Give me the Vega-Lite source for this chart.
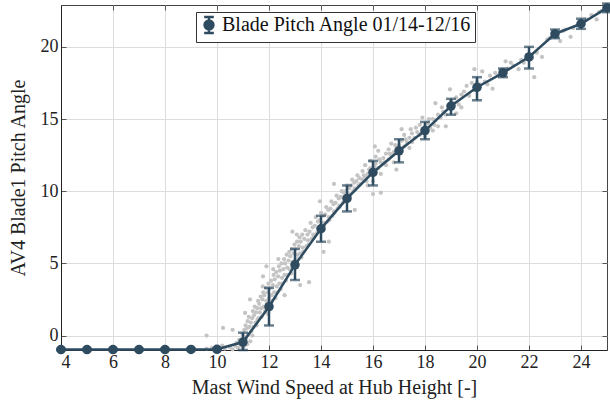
{
  "$schema": "https://vega.github.io/schema/vega-lite/v6.json",
  "width": 546,
  "height": 345,
  "autosize": "none",
  "padding": {"left": 61, "top": 5, "right": 3, "bottom": 52},
  "background": "white",
  "config": {
    "view": {"stroke": "#444", "strokeWidth": 1},
    "font": "Liberation Serif",
    "axis": {
      "labelFont": "Liberation Serif", "titleFont": "Liberation Serif",
      "labelFontSize": 18, "titleFontSize": 20, "labelColor": "#222", "titleColor": "#222",
      "titleFontWeight": "normal", "gridColor": "#dddddd", "gridWidth": 1,
      "domainColor": "#222", "tickColor": "#555", "tickSize": -5, "labelPadding": 8
    },
    "legend": {"labelFont": "Liberation Serif"}
  },
  "datasets": {
    "scatter": [
      {"ws": 9.6, "pitch": -0.9}, {"ws": 9.8, "pitch": -0.85}, {"ws": 10.1, "pitch": -0.95}, {"ws": 10.3, "pitch": -0.9},
      {"ws": 10.5, "pitch": -0.8}, {"ws": 10.6, "pitch": -0.95}, {"ws": 10.7, "pitch": -0.7}, {"ws": 10.8, "pitch": -0.85},
      {"ws": 10.9, "pitch": -0.6}, {"ws": 10.2, "pitch": -0.7}, {"ws": 9.6, "pitch": 0.0}, {"ws": 10.23, "pitch": 0.53},
      {"ws": 10.6, "pitch": 0.4}, {"ws": 10.75, "pitch": -0.5}, {"ws": 10.85, "pitch": -0.3},
      {"ws": 11.08, "pitch": 1.57}, {"ws": 11.27, "pitch": 2.5}, {"ws": 11.77, "pitch": 4.1}, {"ws": 11.9, "pitch": 4.8},
      {"ws": 13.54, "pitch": 3.7}, {"ws": 13.2, "pitch": 3.5}, {"ws": 14.1, "pitch": 5.8}, {"ws": 14.3, "pitch": 6.5},
      {"ws": 12.6, "pitch": 2.8}, {"ws": 15.3, "pitch": 8.7}, {"ws": 14.5, "pitch": 10.5}, {"ws": 13.96, "pitch": 9.3},
      {"ws": 13.07, "pitch": 7.0}, {"ws": 12.9, "pitch": 7.2},
      {"ws": 10.92, "pitch": -0.7}, {"ws": 10.95, "pitch": -0.3}, {"ws": 10.98, "pitch": 0.1}, {"ws": 11.02, "pitch": -0.5},
      {"ws": 11.05, "pitch": 0.4}, {"ws": 11.08, "pitch": -0.1}, {"ws": 11.1, "pitch": 0.7}, {"ws": 11.0, "pitch": -0.85},
      {"ws": 11.06, "pitch": -0.7},
      {"ws": 11.12, "pitch": -0.2}, {"ws": 11.15, "pitch": 0.5}, {"ws": 11.18, "pitch": 1.0}, {"ws": 11.2, "pitch": 0.1},
      {"ws": 11.22, "pitch": 1.3}, {"ws": 11.25, "pitch": 0.6}, {"ws": 11.28, "pitch": -0.4}, {"ws": 11.3, "pitch": 0.9},
      {"ws": 11.16, "pitch": -0.6},
      {"ws": 11.32, "pitch": 0.3}, {"ws": 11.35, "pitch": 1.2}, {"ws": 11.38, "pitch": 1.7}, {"ws": 11.4, "pitch": 0.6},
      {"ws": 11.42, "pitch": 1.4}, {"ws": 11.45, "pitch": 2.0}, {"ws": 11.48, "pitch": 0.9}, {"ws": 11.5, "pitch": 1.6},
      {"ws": 11.36, "pitch": 0.0},
      {"ws": 11.52, "pitch": 0.7}, {"ws": 11.55, "pitch": 1.9}, {"ws": 11.58, "pitch": 2.4}, {"ws": 11.6, "pitch": 1.2},
      {"ws": 11.62, "pitch": 2.2}, {"ws": 11.65, "pitch": 1.6}, {"ws": 11.68, "pitch": 2.7}, {"ws": 11.7, "pitch": 1.9},
      {"ws": 11.56, "pitch": 1.1},
      {"ws": 11.72, "pitch": 1.3}, {"ws": 11.75, "pitch": 2.5}, {"ws": 11.78, "pitch": 3.0}, {"ws": 11.8, "pitch": 2.0},
      {"ws": 11.82, "pitch": 2.8}, {"ws": 11.85, "pitch": 1.7}, {"ws": 11.88, "pitch": 3.3}, {"ws": 11.9, "pitch": 2.4},
      {"ws": 11.76, "pitch": 3.4},
      {"ws": 11.92, "pitch": 2.0}, {"ws": 11.95, "pitch": 3.0}, {"ws": 11.98, "pitch": 3.6}, {"ws": 12.0, "pitch": 2.6},
      {"ws": 12.02, "pitch": 3.3}, {"ws": 12.05, "pitch": 1.9}, {"ws": 12.08, "pitch": 3.8}, {"ws": 12.1, "pitch": 2.8},
      {"ws": 11.96, "pitch": 1.5},
      {"ws": 12.12, "pitch": 2.4}, {"ws": 12.15, "pitch": 3.5}, {"ws": 12.18, "pitch": 4.2}, {"ws": 12.2, "pitch": 3.0},
      {"ws": 12.22, "pitch": 3.9}, {"ws": 12.25, "pitch": 2.6}, {"ws": 12.28, "pitch": 4.4}, {"ws": 12.3, "pitch": 3.4},
      {"ws": 12.16, "pitch": 4.6},
      {"ws": 12.32, "pitch": 3.0}, {"ws": 12.35, "pitch": 4.1}, {"ws": 12.38, "pitch": 4.8}, {"ws": 12.4, "pitch": 3.6},
      {"ws": 12.42, "pitch": 4.5}, {"ws": 12.45, "pitch": 3.2}, {"ws": 12.48, "pitch": 5.0}, {"ws": 12.5, "pitch": 4.0},
      {"ws": 12.36, "pitch": 5.3},
      {"ws": 12.52, "pitch": 3.6}, {"ws": 12.55, "pitch": 4.6}, {"ws": 12.58, "pitch": 5.3}, {"ws": 12.6, "pitch": 4.2},
      {"ws": 12.62, "pitch": 5.0}, {"ws": 12.65, "pitch": 3.8}, {"ws": 12.68, "pitch": 5.6}, {"ws": 12.7, "pitch": 4.7},
      {"ws": 12.72, "pitch": 4.2}, {"ws": 12.75, "pitch": 5.2}, {"ws": 12.78, "pitch": 5.8}, {"ws": 12.8, "pitch": 4.6},
      {"ws": 12.82, "pitch": 5.5}, {"ws": 12.85, "pitch": 4.3}, {"ws": 12.88, "pitch": 6.0}, {"ws": 12.9, "pitch": 5.1},
      {"ws": 12.92, "pitch": 4.8}, {"ws": 12.95, "pitch": 5.7}, {"ws": 12.98, "pitch": 6.3}, {"ws": 13.0, "pitch": 5.2},
      {"ws": 13.02, "pitch": 6.0}, {"ws": 13.05, "pitch": 4.9}, {"ws": 13.08, "pitch": 6.5}, {"ws": 13.1, "pitch": 5.6},
      {"ws": 13.12, "pitch": 5.3}, {"ws": 13.15, "pitch": 6.2}, {"ws": 13.18, "pitch": 6.8}, {"ws": 13.2, "pitch": 5.7},
      {"ws": 13.22, "pitch": 6.5}, {"ws": 13.25, "pitch": 5.4}, {"ws": 13.28, "pitch": 7.0}, {"ws": 13.3, "pitch": 6.1},
      {"ws": 13.32, "pitch": 5.8}, {"ws": 13.36, "pitch": 6.7}, {"ws": 13.4, "pitch": 7.3}, {"ws": 13.44, "pitch": 6.2},
      {"ws": 13.48, "pitch": 7.0}, {"ws": 13.5, "pitch": 6.6},
      {"ws": 13.52, "pitch": 6.3}, {"ws": 13.56, "pitch": 7.2}, {"ws": 13.6, "pitch": 7.8}, {"ws": 13.64, "pitch": 6.7},
      {"ws": 13.68, "pitch": 7.5}, {"ws": 13.7, "pitch": 7.0},
      {"ws": 13.72, "pitch": 6.8}, {"ws": 13.76, "pitch": 7.6}, {"ws": 13.8, "pitch": 8.2}, {"ws": 13.84, "pitch": 7.1},
      {"ws": 13.88, "pitch": 7.9}, {"ws": 13.9, "pitch": 7.4},
      {"ws": 13.92, "pitch": 7.2}, {"ws": 13.96, "pitch": 8.0}, {"ws": 14.0, "pitch": 8.5}, {"ws": 14.04, "pitch": 7.5},
      {"ws": 14.08, "pitch": 8.3}, {"ws": 14.1, "pitch": 7.8},
      {"ws": 14.12, "pitch": 7.6}, {"ws": 14.16, "pitch": 8.4}, {"ws": 14.2, "pitch": 8.9}, {"ws": 14.24, "pitch": 7.9},
      {"ws": 14.28, "pitch": 8.7}, {"ws": 14.3, "pitch": 8.2},
      {"ws": 14.32, "pitch": 8.0}, {"ws": 14.36, "pitch": 8.8}, {"ws": 14.4, "pitch": 9.3}, {"ws": 14.44, "pitch": 8.3},
      {"ws": 14.48, "pitch": 9.1}, {"ws": 14.5, "pitch": 8.6},
      {"ws": 14.52, "pitch": 8.5}, {"ws": 14.56, "pitch": 9.2}, {"ws": 14.6, "pitch": 9.7}, {"ws": 14.64, "pitch": 8.8},
      {"ws": 14.68, "pitch": 9.5}, {"ws": 14.7, "pitch": 9.0},
      {"ws": 14.72, "pitch": 8.9}, {"ws": 14.76, "pitch": 9.6}, {"ws": 14.8, "pitch": 10.0}, {"ws": 14.84, "pitch": 9.2},
      {"ws": 14.88, "pitch": 9.9}, {"ws": 14.9, "pitch": 9.4},
      {"ws": 14.92, "pitch": 9.3}, {"ws": 14.96, "pitch": 10.0}, {"ws": 15.0, "pitch": 10.4}, {"ws": 15.04, "pitch": 9.6},
      {"ws": 15.08, "pitch": 10.2}, {"ws": 15.1, "pitch": 9.8},
      {"ws": 15.12, "pitch": 9.7}, {"ws": 15.16, "pitch": 10.4}, {"ws": 15.2, "pitch": 10.8}, {"ws": 15.24, "pitch": 10.0},
      {"ws": 15.28, "pitch": 10.6}, {"ws": 15.3, "pitch": 10.2},
      {"ws": 15.32, "pitch": 10.1}, {"ws": 15.36, "pitch": 10.7}, {"ws": 15.4, "pitch": 11.1}, {"ws": 15.44, "pitch": 10.4},
      {"ws": 15.48, "pitch": 10.9}, {"ws": 15.5, "pitch": 10.5},
      {"ws": 15.6, "pitch": 10.8}, {"ws": 15.6, "pitch": 11.4}, {"ws": 15.7, "pitch": 11.0}, {"ws": 15.7, "pitch": 11.8},
      {"ws": 15.8, "pitch": 11.2}, {"ws": 15.8, "pitch": 10.4}, {"ws": 15.9, "pitch": 11.6}, {"ws": 15.9, "pitch": 12.1},
      {"ws": 16.0, "pitch": 11.4}, {"ws": 16.0, "pitch": 10.7}, {"ws": 16.1, "pitch": 11.9}, {"ws": 16.1, "pitch": 12.4},
      {"ws": 16.2, "pitch": 11.6}, {"ws": 16.2, "pitch": 12.8}, {"ws": 16.3, "pitch": 12.0}, {"ws": 16.3, "pitch": 11.2},
      {"ws": 16.4, "pitch": 12.3}, {"ws": 16.5, "pitch": 12.6}, {"ws": 16.5, "pitch": 11.8}, {"ws": 16.3, "pitch": 9.9},
      {"ws": 16.0, "pitch": 9.8}, {"ws": 16.07, "pitch": 13.1}, {"ws": 15.65, "pitch": 11.1}, {"ws": 15.85, "pitch": 11.5},
      {"ws": 16.05, "pitch": 11.7}, {"ws": 16.25, "pitch": 12.2}, {"ws": 16.45, "pitch": 12.0}, {"ws": 15.75, "pitch": 10.7},
      {"ws": 16.6, "pitch": 12.2}, {"ws": 16.6, "pitch": 12.9}, {"ws": 16.7, "pitch": 12.5}, {"ws": 16.7, "pitch": 13.3},
      {"ws": 16.8, "pitch": 12.7}, {"ws": 16.8, "pitch": 12.0}, {"ws": 16.9, "pitch": 13.0}, {"ws": 17.0, "pitch": 13.2},
      {"ws": 17.0, "pitch": 12.6}, {"ws": 17.1, "pitch": 13.5}, {"ws": 17.2, "pitch": 13.1}, {"ws": 17.2, "pitch": 13.9},
      {"ws": 17.3, "pitch": 13.4}, {"ws": 17.4, "pitch": 13.7}, {"ws": 17.4, "pitch": 13.0}, {"ws": 17.5, "pitch": 14.0},
      {"ws": 17.5, "pitch": 13.4}, {"ws": 17.1, "pitch": 14.3}, {"ws": 16.9, "pitch": 11.5}, {"ws": 16.65, "pitch": 12.6},
      {"ws": 16.85, "pitch": 13.2}, {"ws": 17.05, "pitch": 12.9}, {"ws": 17.25, "pitch": 13.6}, {"ws": 17.45, "pitch": 14.3},
      {"ws": 17.6, "pitch": 13.7}, {"ws": 17.7, "pitch": 14.1}, {"ws": 17.8, "pitch": 13.9}, {"ws": 17.8, "pitch": 14.6},
      {"ws": 17.9, "pitch": 14.3}, {"ws": 18.0, "pitch": 14.5}, {"ws": 18.0, "pitch": 13.8}, {"ws": 18.1, "pitch": 14.7},
      {"ws": 18.2, "pitch": 14.4}, {"ws": 18.3, "pitch": 15.0}, {"ws": 18.3, "pitch": 14.2}, {"ws": 18.4, "pitch": 14.9},
      {"ws": 18.5, "pitch": 15.3}, {"ws": 18.5, "pitch": 14.5}, {"ws": 18.4, "pitch": 16.1}, {"ws": 17.9, "pitch": 15.1},
      {"ws": 17.65, "pitch": 14.4}, {"ws": 17.85, "pitch": 14.0}, {"ws": 18.15, "pitch": 15.0}, {"ws": 18.35, "pitch": 14.6},
      {"ws": 18.6, "pitch": 15.1}, {"ws": 18.7, "pitch": 15.5}, {"ws": 18.8, "pitch": 15.3}, {"ws": 18.9, "pitch": 15.9},
      {"ws": 19.0, "pitch": 15.7}, {"ws": 19.0, "pitch": 16.3}, {"ws": 19.1, "pitch": 16.1}, {"ws": 19.2, "pitch": 16.5},
      {"ws": 19.3, "pitch": 16.0}, {"ws": 19.4, "pitch": 16.7}, {"ws": 19.5, "pitch": 16.9}, {"ws": 19.2, "pitch": 15.4},
      {"ws": 18.8, "pitch": 14.5}, {"ws": 18.96, "pitch": 17.06}, {"ws": 19.4, "pitch": 15.8}, {"ws": 18.65, "pitch": 15.8},
      {"ws": 19.6, "pitch": 17.3}, {"ws": 19.7, "pitch": 16.6}, {"ws": 19.8, "pitch": 17.5}, {"ws": 19.9, "pitch": 17.0},
      {"ws": 20.0, "pitch": 17.6}, {"ws": 20.1, "pitch": 17.4}, {"ws": 20.2, "pitch": 18.3}, {"ws": 20.3, "pitch": 17.6},
      {"ws": 20.4, "pitch": 17.4}, {"ws": 20.5, "pitch": 18.0}, {"ws": 19.9, "pitch": 18.45}, {"ws": 20.6, "pitch": 17.1},
      {"ws": 20.7, "pitch": 18.2}, {"ws": 20.8, "pitch": 18.0}, {"ws": 20.9, "pitch": 18.4}, {"ws": 21.0, "pitch": 18.3},
      {"ws": 21.1, "pitch": 19.0}, {"ws": 21.2, "pitch": 18.5}, {"ws": 21.3, "pitch": 18.9}, {"ws": 21.4, "pitch": 18.7},
      {"ws": 21.6, "pitch": 18.45}, {"ws": 21.7, "pitch": 19.1}, {"ws": 21.8, "pitch": 18.9}, {"ws": 22.0, "pitch": 19.4},
      {"ws": 22.1, "pitch": 19.2}, {"ws": 22.2, "pitch": 17.9}, {"ws": 22.3, "pitch": 19.6}, {"ws": 22.5, "pitch": 19.3},
      {"ws": 22.7, "pitch": 20.5}, {"ws": 22.8, "pitch": 20.6}, {"ws": 22.9, "pitch": 20.8}, {"ws": 23.0, "pitch": 21.0},
      {"ws": 23.1, "pitch": 20.7}, {"ws": 23.2, "pitch": 20.4}, {"ws": 23.3, "pitch": 21.1}, {"ws": 23.4, "pitch": 21.2},
      {"ws": 23.6, "pitch": 20.7}, {"ws": 23.7, "pitch": 21.3}, {"ws": 23.9, "pitch": 21.5}, {"ws": 24.0, "pitch": 21.7},
      {"ws": 24.1, "pitch": 21.6}, {"ws": 24.2, "pitch": 21.9}, {"ws": 24.4, "pitch": 22.2}, {"ws": 24.6, "pitch": 21.9},
      {"ws": 24.7, "pitch": 22.4}, {"ws": 24.8, "pitch": 22.5}, {"ws": 24.9, "pitch": 22.7}
    ],
    "means": [
      {"ws": 4, "mean": -0.97, "lo": -1.02, "hi": -0.92},
      {"ws": 5, "mean": -0.97, "lo": -1.02, "hi": -0.92},
      {"ws": 6, "mean": -0.97, "lo": -1.02, "hi": -0.92},
      {"ws": 7, "mean": -0.97, "lo": -1.02, "hi": -0.92},
      {"ws": 8, "mean": -0.97, "lo": -1.02, "hi": -0.92},
      {"ws": 9, "mean": -0.96, "lo": -1.01, "hi": -0.91},
      {"ws": 10, "mean": -0.95, "lo": -1.0, "hi": -0.9},
      {"ws": 11, "mean": -0.45, "lo": -1.0, "hi": 0.2},
      {"ws": 12, "mean": 2.0, "lo": 0.7, "hi": 3.3},
      {"ws": 13, "mean": 4.9, "lo": 3.85, "hi": 6.0},
      {"ws": 14, "mean": 7.4, "lo": 6.5, "hi": 8.3},
      {"ws": 15, "mean": 9.5, "lo": 8.6, "hi": 10.4},
      {"ws": 16, "mean": 11.3, "lo": 10.4, "hi": 12.1},
      {"ws": 17, "mean": 12.8, "lo": 12.0, "hi": 13.6},
      {"ws": 18, "mean": 14.2, "lo": 13.6, "hi": 14.8},
      {"ws": 19, "mean": 15.9, "lo": 15.3, "hi": 16.4},
      {"ws": 20, "mean": 17.2, "lo": 16.3, "hi": 17.9},
      {"ws": 21, "mean": 18.2, "lo": 17.9, "hi": 18.5},
      {"ws": 22, "mean": 19.3, "lo": 18.5, "hi": 20.0},
      {"ws": 23, "mean": 20.9, "lo": 20.6, "hi": 21.2},
      {"ws": 24, "mean": 21.6, "lo": 21.25, "hi": 21.95},
      {"ws": 25, "mean": 22.7, "lo": 22.4, "hi": 23.0}
    ]
  },
  "resolve": {"axis": {"x": "independent", "y": "independent"}},
  "layer": [
    {
      "layer": [
        {
          "data": {"name": "scatter"},
          "mark": {"type": "circle", "size": 18, "color": "#c4c4c4", "opacity": 1},
          "encoding": {
            "x": {"field": "ws", "type": "quantitative", "scale": {"domain": [4, 25], "nice": false, "zero": false},
                  "title": "Mast Wind Speed at Hub Height [-]",
                  "axis": {"values": [4, 6, 8, 10, 12, 14, 16, 18, 20, 22, 24], "titlePadding": 6}},
            "y": {"field": "pitch", "type": "quantitative", "scale": {"domain": [-1.0, 22.9], "nice": false, "zero": false},
                  "title": "AV4 Blade1 Pitch Angle",
                  "axis": {"values": [0, 5, 10, 15, 20], "titlePadding": 12}}
          }
        },
        {
          "data": {"name": "means"},
          "mark": {"type": "line", "color": "#2e4b60", "strokeWidth": 2.5},
          "encoding": {
            "x": {"field": "ws", "type": "quantitative", "title": "Mast Wind Speed at Hub Height [-]"},
            "y": {"field": "mean", "type": "quantitative", "title": "AV4 Blade1 Pitch Angle"}
          }
        },
        {
          "data": {"name": "means"},
          "mark": {"type": "errorbar", "color": "#2e4b60", "thickness": 2.5, "ticks": {"size": 10, "thickness": 2.5, "color": "#2e4b60"}},
          "encoding": {
            "x": {"field": "ws", "type": "quantitative", "title": "Mast Wind Speed at Hub Height [-]"},
            "y": {"field": "lo", "type": "quantitative", "title": "AV4 Blade1 Pitch Angle"},
            "y2": {"field": "hi"}
          }
        },
        {
          "data": {"name": "means"},
          "mark": {"type": "point", "filled": true, "size": 90, "opacity": 1, "shape": "circle"},
          "encoding": {
            "x": {"field": "ws", "type": "quantitative", "title": "Mast Wind Speed at Hub Height [-]"},
            "y": {"field": "mean", "type": "quantitative", "title": "AV4 Blade1 Pitch Angle"},
            "color": {"datum": "Blade Pitch Angle 01/14-12/16", "type": "nominal",
                      "scale": {"range": ["#2e4b60"]},
                      "legend": {"title": null, "orient": "none", "legendX": 135, "legendY": 7,
                                 "labelFontSize": 20, "labelColor": "#111", "labelLimit": 0,
                                 "symbolType": "M-0.6,-1H0.6M0,-1V1M-0.6,1H0.6M-0.55,0A0.55,0.55,0,1,1,0.55,0A0.55,0.55,0,1,1,-0.55,0Z",
                                 "symbolSize": 260, "symbolStrokeWidth": 2.5, "symbolStrokeColor": "#2e4b60", "symbolFillColor": "#2e4b60",
                                 "strokeColor": "#333", "fillColor": "white", "padding": 3, "labelOffset": 3}}
          }
        }
      ]
    },
    {
      "data": {"name": "means"},
      "mark": {"type": "point", "opacity": 0},
      "encoding": {
        "x": {"field": "ws", "type": "quantitative",
              "axis": {"orient": "top", "values": [4, 6, 8, 10, 12, 14, 16, 18, 20, 22, 24], "labels": false, "title": null, "grid": false, "domain": false}},
        "y": {"field": "mean", "type": "quantitative",
              "axis": {"orient": "right", "values": [0, 5, 10, 15, 20], "labels": false, "title": null, "grid": false, "domain": false}}
      }
    }
  ]
}
